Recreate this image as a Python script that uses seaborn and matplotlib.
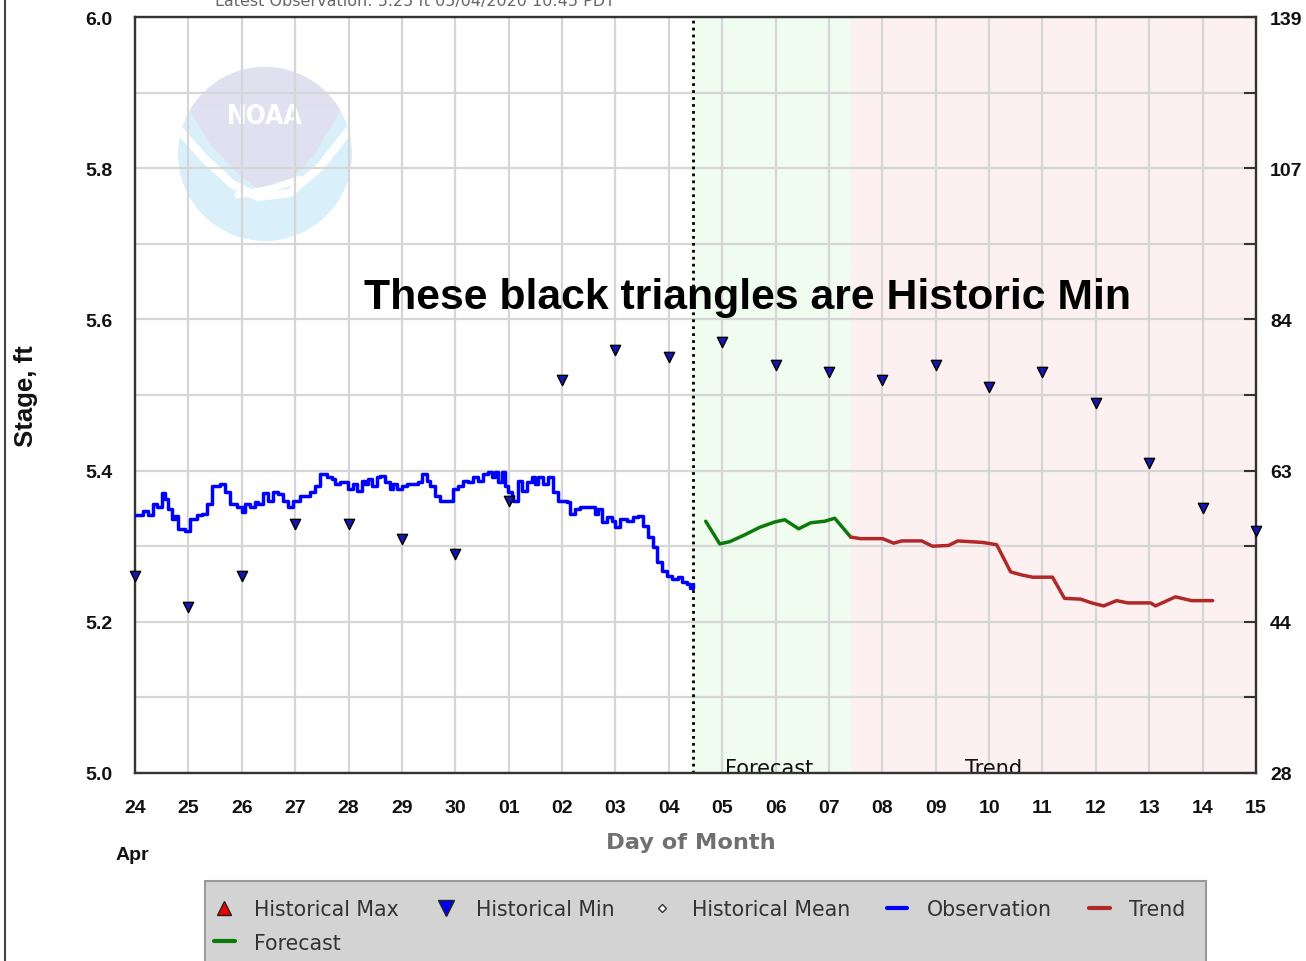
import numpy as np
import pandas as pd
import seaborn as sns
import matplotlib.pyplot as plt
from matplotlib.lines import Line2D
from matplotlib.patches import Ellipse, Polygon, Rectangle

# time axis: hours since 24 Apr 00:00 PDT
obs_hours = [0, 3.6, 5.8, 8.1, 9.9, 12.1, 13.5, 14.8, 16.6, 18.0, 19.3, 22.5, 24.7, 27.9,
             30.1, 32.4, 34.6, 38.2, 40.4, 42.7, 45.8, 48.1, 49.4, 51.7, 53.9, 55.3, 57.5,
             59.8, 62.0, 64.3, 66.5, 68.8, 71.0, 74.2, 78.6, 80.9, 83.1, 86.3, 88.5, 89.9,
             92.1, 95.7, 98.0, 99.8, 102.0, 103.4, 104.7, 106.5, 108.8, 110.1, 112.4, 114.6,
             115.9, 117.7, 120.0, 122.2, 127.2, 129.0, 131.2, 132.6, 134.8, 137.1, 140.2,
             142.9, 145.2, 147.4, 149.6, 151.9, 154.1, 156.4, 158.6, 160.4, 161.8, 163.1,
             164.9, 166.3, 167.6, 169.4, 169.9, 172.1, 173.9, 176.2, 178.4, 179.8, 181.1,
             183.4, 185.6, 187.8, 190.1, 194.1, 195.5, 197.7, 200.0, 204.5, 206.7, 208.1,
             209.9, 212.1, 214.4, 215.7, 218.0, 221.1, 223.8, 226.1, 228.3, 230.5, 232.8,
             234.6, 236.8, 239.1, 241.3, 244.0, 245.8, 248.1, 249.4, 250.75]
obs_stage = [5.341, 5.347, 5.341, 5.356, 5.352, 5.370, 5.362, 5.349, 5.336, 5.340, 5.323,
             5.320, 5.336, 5.341, 5.343, 5.356, 5.380, 5.382, 5.372, 5.356, 5.352, 5.345,
             5.356, 5.352, 5.358, 5.356, 5.370, 5.360, 5.372, 5.369, 5.360, 5.352, 5.360,
             5.366, 5.372, 5.380, 5.396, 5.392, 5.389, 5.382, 5.385, 5.376, 5.382, 5.373,
             5.386, 5.382, 5.389, 5.380, 5.392, 5.393, 5.385, 5.376, 5.382, 5.376, 5.380,
             5.382, 5.385, 5.396, 5.386, 5.380, 5.366, 5.360, 5.360, 5.376, 5.380, 5.386,
             5.385, 5.392, 5.386, 5.396, 5.398, 5.392, 5.398, 5.385, 5.398, 5.380, 5.372,
             5.366, 5.360, 5.386, 5.373, 5.385, 5.392, 5.382, 5.392, 5.382, 5.392, 5.372,
             5.360, 5.358, 5.343, 5.349, 5.352, 5.352, 5.343, 5.349, 5.332, 5.339, 5.333,
             5.325, 5.336, 5.333, 5.339, 5.340, 5.327, 5.312, 5.299, 5.279, 5.267, 5.261,
             5.257, 5.259, 5.253, 5.250, 5.245, 5.250]

fcst_hours = [256.6, 262.9, 267.4, 274.1, 280.9, 287.6, 292.1, 298.4, 303.8, 310.1, 314.6, 321.8]
fcst_stage = [5.333, 5.303, 5.306, 5.315, 5.325, 5.332, 5.335, 5.323, 5.331, 5.333, 5.337, 5.312]

trend_hours = [321.8, 326.3, 336.1, 341.1, 344.7, 353.7, 358.6, 365.8, 369.9, 381.1, 387.4,
               393.7, 398.6, 403.6, 412.5, 417.9, 425.1, 430.1, 435.5, 441.3, 446.3, 456.6,
               458.8, 467.8, 475.0, 484.5]
trend_stage = [5.312, 5.310, 5.310, 5.304, 5.307, 5.307, 5.300, 5.301, 5.307, 5.305, 5.302,
               5.266, 5.262, 5.259, 5.259, 5.231, 5.230, 5.225, 5.221, 5.228, 5.225, 5.225,
               5.221, 5.233, 5.228, 5.228]

min_day = list(range(22))
min_stage = [5.26, 5.22, 5.26, 5.33, 5.33, 5.31, 5.29, 5.36, 5.52, 5.56, 5.55, 5.57, 5.54,
             5.53, 5.52, 5.54, 5.51, 5.53, 5.49, 5.41, 5.35, 5.32]

day_labels = ['24', '25', '26', '27', '28', '29', '30', '01', '02', '03', '04', '05', '06',
              '07', '08', '09', '10', '11', '12', '13', '14', '15']
flow_labels = ['28', '44', '63', '84', '107', '139']

latest_obs_hour = 250.75
forecast_end_hour = 321.8

sns.set_theme(style='white')
plt.rcParams['font.family'] = ['Liberation Sans', 'DejaVu Sans']

W, H = 1306, 962
fx = lambda px: px / W
fy = lambda py: 1 - py / H

fig = plt.figure(figsize=(W / 100, H / 100), dpi=100)
ax = fig.add_axes([fx(135), fy(774), 1121 / W, 756 / H])
ax.set_xlim(0, 504)
ax.set_ylim(5.0, 6.0)

# pixel -> data helper for decorations
def pdat(px, py):
    return ((px - 135) * 504 / 1121, 5 + (774 - py) / 756)

# shaded forecast / trend periods
ax.axvspan(latest_obs_hour, forecast_end_hour, color='#effcef', zorder=0.1, lw=0)
ax.axvspan(forecast_end_hour, 504, color='#fdf0f0', zorder=0.1, lw=0)

# faint NOAA watermark
cx, cy = pdat(265, 155)
ax.add_patch(Ellipse((cx, cy), 174 * 504 / 1121, 174 / 756, color='#d9eff9', lw=0, zorder=0.2))
ang = np.linspace(np.deg2rad(30), np.deg2rad(150), 40)
arc = [pdat(265 + 87 * np.cos(a), 155 - 87 * np.sin(a)) for a in ang]
bottom = [pdat(*p) for p in [(190, 112), (210, 145), (235, 172), (258, 190), (285, 186), (315, 155), (340, 112)]]
ax.add_patch(Polygon(arc[::-1] + bottom, closed=True, color='#e0e0f0', lw=0, zorder=0.25))
gull = [pdat(*p) for p in [(180, 132), (205, 160), (232, 185), (258, 198), (290, 194), (320, 168), (350, 130)]]
ax.plot([g[0] for g in gull], [g[1] for g in gull], color='white', lw=6, zorder=0.3,
        solid_capstyle='round')
tail = [pdat(*p) for p in [(238, 196), (270, 190), (300, 180)]]
ax.plot([t[0] for t in tail], [t[1] for t in tail], color='white', lw=5, zorder=0.3)
ax.text(*pdat(265, 117), 'NOAA', color='white', fontsize=19, fontweight='bold',
        ha='center', va='center', family='DejaVu Sans', fontstretch='condensed', zorder=0.35)

# grid
ax.set_axisbelow(True)
ax.set_xticks(np.arange(0, 505, 24))
ax.set_xticklabels(day_labels)
ax.set_yticks(np.arange(5.0, 6.01, 0.1))
ax.set_yticklabels(['%.1f' % v if round(v * 10) % 2 == 0 else '' for v in np.arange(5.0, 6.01, 0.1)])
ax.grid(True, color='#d6d6d6', lw=1.6)
ax.tick_params(axis='both', length=0, labelsize=14, labelcolor='#111')
ax.tick_params(axis='x', pad=19)
ax.tick_params(axis='y', pad=16)
for lab in ax.get_xticklabels() + ax.get_yticklabels():
    lab.set_fontweight('bold')
for s in ax.spines.values():
    s.set_color('#333333')
    s.set_linewidth(1.7)

# series
obs = pd.DataFrame({'hour': obs_hours, 'stage': obs_stage})
fcst = pd.DataFrame({'hour': fcst_hours, 'stage': fcst_stage})
trend = pd.DataFrame({'hour': trend_hours, 'stage': trend_stage})
hmin = pd.DataFrame({'hour': np.array(min_day) * 24, 'stage': min_stage})

sns.lineplot(data=obs, x='hour', y='stage', ax=ax, color='#0000ff', lw=2.5,
             drawstyle='steps-post', zorder=3)
sns.lineplot(data=fcst, x='hour', y='stage', ax=ax, color='#0b7a0b', lw=2.5, zorder=3)
sns.lineplot(data=trend, x='hour', y='stage', ax=ax, color='#b02828', lw=2.5, zorder=3)
sns.scatterplot(data=hmin, x='hour', y='stage', ax=ax, marker='v', s=55, color='#1515b0',
                edgecolor='black', linewidth=1.0, zorder=4, clip_on=False)

ax.axvline(latest_obs_hour, color='black', ls=(0, (1, 1.5)), lw=2, zorder=2)
ax.set_xlabel('')
ax.set_ylabel('')

ax.text(*pdat(725, 775), 'Forecast', fontsize=15, family='DejaVu Sans', color='#111',
        ha='left', va='baseline', clip_on=True, zorder=2)
ax.text(*pdat(965, 775), 'Trend', fontsize=15, family='DejaVu Sans', color='#111',
        ha='left', va='baseline', clip_on=True, zorder=2)

ax.text(*pdat(747, 298), 'These black triangles are Historic Min', fontsize=30.8,
        fontweight='bold', color='black', ha='center', va='center', zorder=5)

# right axis: flow
ax2 = ax.twinx()
ax2.set_ylim(5.0, 6.0)
ax2.set_yticks(np.arange(5.0, 6.01, 0.1))
ax2.set_yticklabels([flow_labels[i // 2] if i % 2 == 0 else '' for i in range(11)])
ax2.tick_params(axis='y', direction='in', length=9, width=1.5, color='#333', pad=10,
                labelsize=14, labelcolor='#111')
for lab in ax2.get_yticklabels():
    lab.set_fontweight('bold')
ax2.grid(False)
for s in ax2.spines.values():
    s.set_visible(False)

# figure texts
fig.text(fx(26), fy(396), 'Stage, ft', rotation=90, ha='center', va='center',
         fontsize=18.5, fontweight='bold', color='#111')
fig.text(fx(132), fy(856), 'Apr', ha='center', va='center', fontsize=14,
         fontweight='bold', color='#111')
fig.text(fx(691), fy(843), 'Day of Month', ha='center', va='center', fontsize=16.2,
         fontweight='bold', color='#707070', family='DejaVu Sans')
fig.text(fx(415), fy(6), 'Latest Observation: 5.25 ft 05/04/2020 10:45 PDT', ha='center',
         va='baseline', fontsize=11.5, color='#666', family='DejaVu Sans')
fig.add_artist(Line2D([fx(5), fx(5)], [0, 1], color='#444', lw=1.5))

# legend box
fig.add_artist(Rectangle((fx(205), fy(990)), (1206 - 205) / W, (990 - 882) / H,
                         facecolor='#d3d3d3', edgecolor='#9a9a9a', lw=1.5))
h_max = Line2D([], [], marker='^', ls='none', markerfacecolor='#ee0000', markeredgecolor='#222', markersize=10)
h_min = Line2D([], [], marker='v', ls='none', markerfacecolor='#0000ee', markeredgecolor='#222', markersize=11)
h_mean = Line2D([], [], marker='D', ls='none', markerfacecolor='white', markeredgecolor='#333', markersize=4.5)
h_obs = Line2D([], [], color='#0000ff', lw=3)
h_trend = Line2D([], [], color='#b02828', lw=3)
h_fcst = Line2D([], [], color='#0b7a0b', lw=3)
leg = fig.legend([h_max, h_fcst, h_min, h_mean, h_obs, h_trend],
                 ['Historical Max', 'Forecast', 'Historical Min', 'Historical Mean',
                  'Observation', 'Trend'],
                 loc='upper left', bbox_to_anchor=(fx(214), fy(900)), ncol=5, frameon=False,
                 prop={'family': 'DejaVu Sans', 'size': 14.8}, handlelength=1.0,
                 handletextpad=0.95, columnspacing=1.8, labelspacing=0.66, borderpad=0,
                 borderaxespad=0)
for t in leg.get_texts():
    t.set_color('#333')

fig.savefig('out.png', dpi=100)
